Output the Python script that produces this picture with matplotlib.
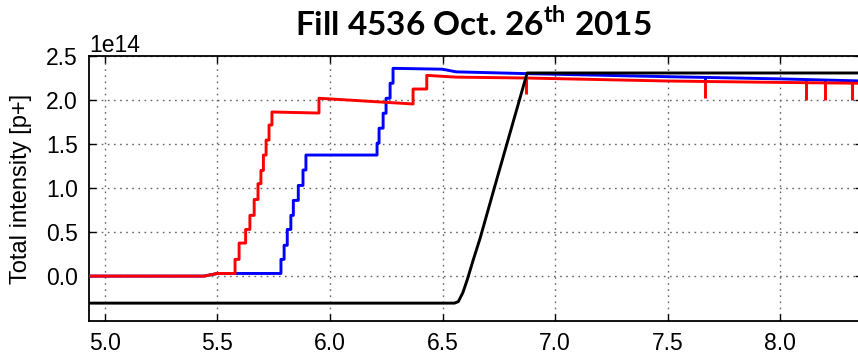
import numpy as np
import matplotlib
matplotlib.use("Agg")
import matplotlib.pyplot as plt

# intensities in units of 1e14 protons; each knot has the value just before and just after it
red_x = [4.93, 5.44, 5.50, 5.578, 5.596, 5.625, 5.644, 5.663, 5.68, 5.693, 5.704, 5.716,
         5.729, 5.742, 5.951, 6.369, 6.43, 6.56, 6.87, 7.5, 8.0, 8.37]
red_left = [0.0, 0.0, 0.03, 0.03, 0.19, 0.375, 0.53, 0.69, 0.87, 1.05, 1.2, 1.375,
            1.545, 1.716, 1.852, 1.955, 2.125, 2.26, 2.25, 2.216, 2.2, 2.19]
red_right = [0.0, 0.0, 0.03, 0.19, 0.375, 0.53, 0.69, 0.87, 1.05, 1.2, 1.375, 1.545,
             1.716, 1.864, 2.02, 2.125, 2.28, 2.26, 2.25, 2.216, 2.2, 2.19]
red_dip_x = [6.87, 7.667, 8.116, 8.2, 8.319]
red_dip_y = [2.07, 2.02, 2.0, 2.0, 2.0]

blue_x = [4.93, 5.44, 5.50, 5.782, 5.796, 5.81, 5.826, 5.837, 5.859, 5.88, 5.893,
          6.209, 6.218, 6.236, 6.249, 6.267, 6.28, 6.50, 6.56, 6.87, 7.5, 8.0, 8.37]
blue_left = [0.0, 0.0, 0.03, 0.03, 0.19, 0.35, 0.53, 0.69, 0.86, 1.03, 1.205,
             1.375, 1.51, 1.68, 1.85, 2.02, 2.19, 2.35, 2.32, 2.30, 2.265, 2.24, 2.216]
blue_right = [0.0, 0.0, 0.03, 0.19, 0.35, 0.53, 0.69, 0.86, 1.03, 1.205, 1.375,
              1.51, 1.68, 1.85, 2.02, 2.19, 2.36, 2.35, 2.32, 2.30, 2.265, 2.24, 2.216]
blue_dip_x = [7.667, 8.116, 8.2, 8.319]
blue_dip_y = [2.22, 2.21, 2.205, 2.195]

black_x = [4.93, 6.553, 6.57, 6.59, 6.61, 6.636, 6.667, 6.74, 6.876, 8.37]
black_y = [-0.307, -0.307, -0.29, -0.19, -0.04, 0.18, 0.43, 1.09, 2.307, 2.307]

x_ticks = [5.0, 5.5, 6.0, 6.5, 7.0, 7.5, 8.0]
y_ticks = [0.0, 0.5, 1.0, 1.5, 2.0, 2.5]
SCALE = 1e14


def step_path(x, left, right):
    xs = np.repeat(np.asarray(x), 2)
    ys = np.column_stack([left, right]).ravel()
    return xs, ys * SCALE


plt.rcParams['font.family'] = ['Liberation Sans', 'DejaVu Sans']
plt.rcParams['mathtext.fontset'] = 'custom'
plt.rcParams['mathtext.bf'] = 'Lato:bold'
plt.rcParams['mathtext.rm'] = 'Lato'

fig = plt.figure(figsize=(8.58, 3.57), dpi=100)
ax = fig.add_axes([89 / 858, 36 / 357, (862 - 89) / 858, (321 - 56) / 357])

lw = 2.1
bx, by = step_path(blue_x, blue_left, blue_right)
ax.plot(bx, by, color='#0000ff', lw=lw, zorder=3)
ax.vlines(blue_dip_x, np.array(blue_dip_y) * SCALE,
          np.interp(blue_dip_x, bx, by), color='#0000ff', lw=lw, zorder=3)

rx, ry = step_path(red_x, red_left, red_right)
ax.plot(rx, ry, color='#ff0000', lw=lw, zorder=4)
ax.vlines(red_dip_x, np.array(red_dip_y) * SCALE,
          np.interp(red_dip_x, rx, ry), color='#ff0000', lw=lw, zorder=4)

ax.plot(black_x, np.array(black_y) * SCALE, color='black', lw=lw, zorder=5)

ax.set_xlim(4.929, 8.364)
ax.set_ylim(-0.51 * SCALE, 2.5 * SCALE)
ax.set_xticks(x_ticks)
ax.set_yticks(np.array(y_ticks) * SCALE)
ax.xaxis.set_major_formatter(matplotlib.ticker.FormatStrFormatter('%.1f'))

ax.tick_params(direction='in', top=True, right=True, length=5, width=1,
               labelsize=16.5, pad=8, colors='black')
ax.yaxis.get_offset_text().set_fontsize(16.5)
ax.grid(True, color='0.4', linestyle=(0, (1.2, 3.2)), linewidth=1.0)
for s in ax.spines.values():
    s.set_linewidth(1.3)

ax.set_ylabel('Total intensity [p+]', fontsize=17)
ax.yaxis.set_label_coords(-0.074, 0.5)

fig.text(473 / 858, 1 - 36 / 357, r'Fill 4536 Oct. 26$^{\mathbf{th}}$ 2015',
         family='Lato', weight='bold', fontsize=24, ha='center', va='baseline')

fig.savefig('out.png', dpi=100)
